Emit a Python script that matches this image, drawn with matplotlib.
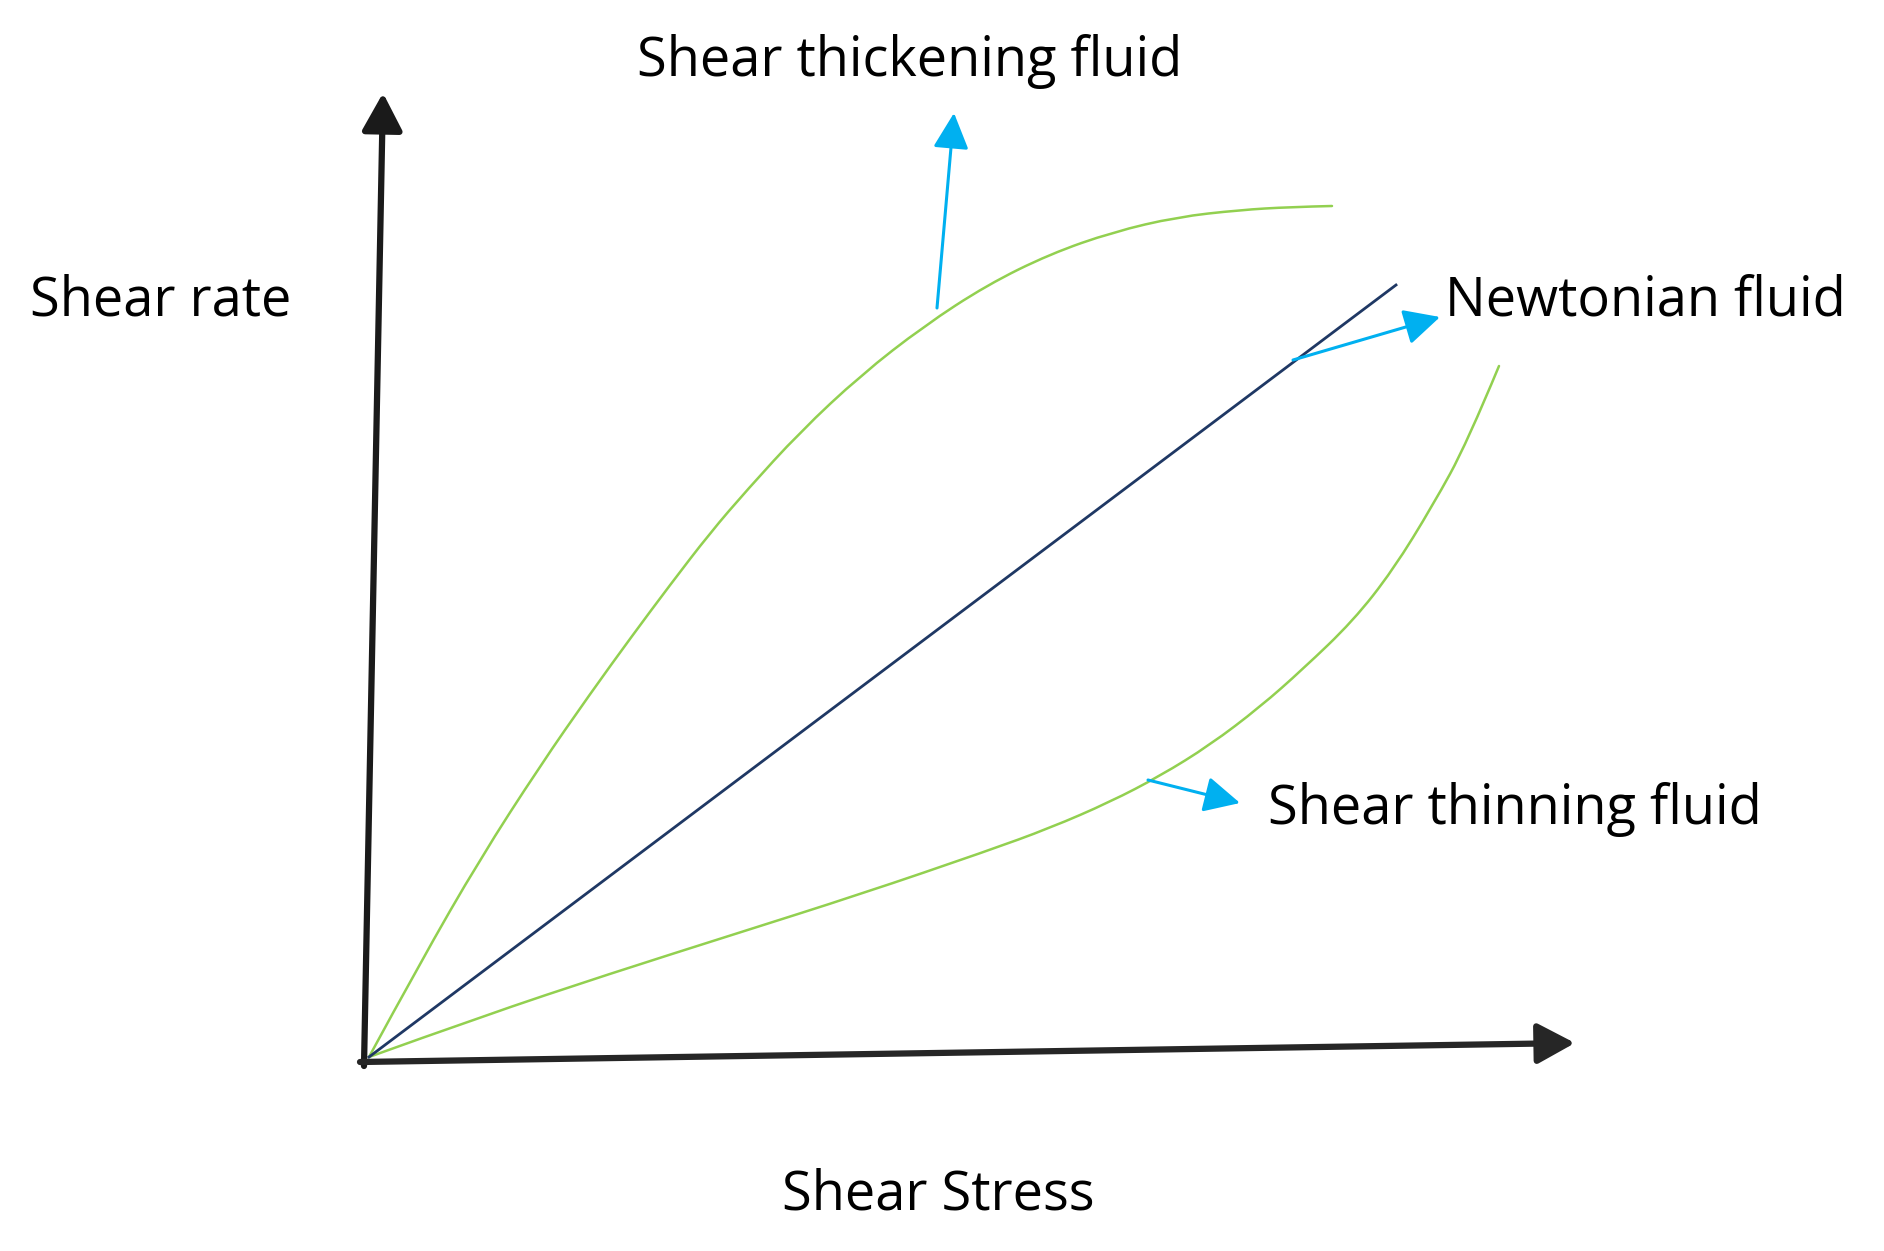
import numpy as np
import matplotlib.pyplot as plt
from matplotlib.path import Path
from matplotlib.patches import PathPatch

# schematic curves (image pixel units, y grows downward)
thick_x = [369, 420, 480, 540, 590, 632, 670, 710, 747, 800, 861, 924, 987,
           1050, 1113, 1177, 1240, 1290, 1332]
thick_y = [1057, 963, 859, 766, 694, 636, 585, 533, 490, 432, 375, 326, 285,
           254, 232, 217, 210, 207, 206]

newt_x = [369, 1396]
newt_y = [1057, 285]

thin_x = [369, 483, 609, 735, 861, 987, 1050, 1110, 1160, 1210, 1260, 1303,
          1353, 1393, 1433, 1467, 1499]
thin_y = [1057, 1016, 974, 934, 894, 851, 828, 802, 776, 745, 707, 669,
          621, 570, 505, 443, 366]

# annotation arrows (tail -> head)
arrows = [((937, 308), (954, 113)),
          ((1293, 360), (1440, 317)),
          ((1148, 780), (1240, 803))]

labels = ["Shear thickening fluid", "Shear rate", "Newtonian fluid",
          "Shear thinning fluid", "Shear Stress"]


def smooth_curve(xs, ys):
    # quadratic bezier through the midpoints, read points act as controls
    pts = np.column_stack([xs, ys]).astype(float)
    verts = [pts[0]]
    codes = [Path.MOVETO]
    n = len(pts)
    for i in range(1, n - 1):
        end = pts[i + 1] if i == n - 2 else (pts[i] + pts[i + 1]) / 2
        verts += [pts[i], end]
        codes += [Path.CURVE3, Path.CURVE3]
    return Path(verts, codes)


plt.rcParams['font.family'] = ['Open Sans', 'DejaVu Sans']

fig = plt.figure(figsize=(18.84, 12.51), dpi=100)
ax = fig.add_axes([0, 0, 1, 1])
ax.set_xlim(0, 1884)
ax.set_ylim(1251, 0)
ax.axis('off')

green = '#92D050'
blue = '#00B0F0'

for xs, ys in [(thick_x, thick_y), (thin_x, thin_y)]:
    ax.add_patch(PathPatch(smooth_curve(xs, ys), fill=False, edgecolor=green,
                           lw=1.8, capstyle='round'))
ax.plot(newt_x, newt_y, color='#1F3864', lw=2.0)

# axes arrows
ax.annotate('', xy=(383, 93), xytext=(364, 1066),
            arrowprops=dict(arrowstyle='-|>,head_length=1.15,head_width=0.62',
                            mutation_scale=20, color='#1a1a1a', lw=4.5,
                            shrinkA=0, shrinkB=0))
ax.annotate('', xy=(1575, 1043), xytext=(360, 1062),
            arrowprops=dict(arrowstyle='-|>,head_length=1.15,head_width=0.62',
                            mutation_scale=20, color='#262626', lw=4.5,
                            shrinkA=0, shrinkB=0))

for tail, head in arrows:
    ax.annotate('', xy=head, xytext=tail,
                arrowprops=dict(arrowstyle='-|>,head_length=1.1,head_width=0.55',
                                mutation_scale=20, color=blue, lw=2.2,
                                shrinkA=0, shrinkB=0))

fs = 39
ax.text(910, 76, labels[0], fontsize=fs, ha='center', va='baseline')
ax.text(30, 315, labels[1], fontsize=fs, ha='left', va='baseline')
ax.text(1445, 316, labels[2], fontsize=fs, ha='left', va='baseline')
ax.text(1268, 824, labels[3], fontsize=fs, ha='left', va='baseline')
ax.text(938, 1209, labels[4], fontsize=fs, ha='center', va='baseline')

fig.savefig('out.png', dpi=100, facecolor='white')
